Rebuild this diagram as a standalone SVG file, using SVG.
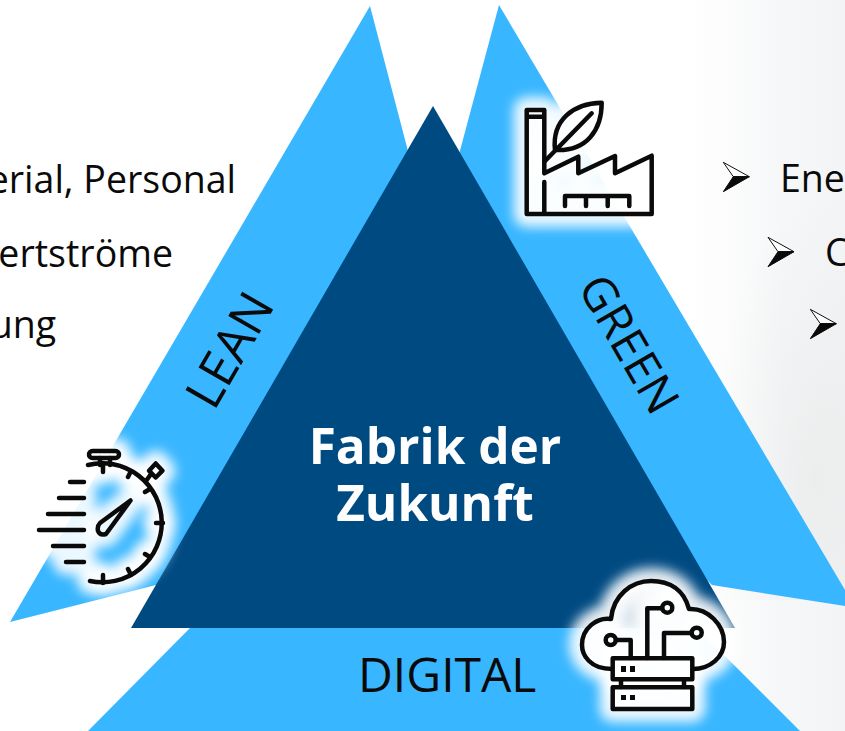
<svg xmlns="http://www.w3.org/2000/svg" width="845" height="731" viewBox="0 0 845 731">
<style>
.t{font-family:"Open Sans","Noto Sans","Liberation Sans",sans-serif;fill:#0a0a0a}
.b{font-size:37.5px}
.m{font-family:"Open Sans","Noto Sans","Liberation Sans",sans-serif;font-size:49.5px;font-weight:700;fill:#fff;text-anchor:middle}
.ln{fill:none;stroke:#0a0a0a;stroke-width:4.5;stroke-linecap:round;stroke-linejoin:round}
.hl{fill:none;stroke:#fff;stroke-width:26;stroke-opacity:.9;stroke-linecap:round;stroke-linejoin:round;filter:url(#bl)}
.fillk{fill:#0a0a0a;stroke:none}
.inner{fill:#fff;fill-opacity:.8;stroke:none}
</style>
<defs>
<linearGradient id="bg" x1="0" y1="0" x2="1" y2="0"><stop offset="0" stop-color="#fff"/><stop offset=".6" stop-color="#f6f7f8"/><stop offset="1" stop-color="#f3f4f5"/></linearGradient>
<radialGradient id="sh" cx=".8" cy=".7" r=".7"><stop offset="0" stop-color="#dcdcdc" stop-opacity=".35"/><stop offset="1" stop-color="#dcdcdc" stop-opacity="0"/></radialGradient>
<filter id="bl" x="-30%" y="-30%" width="160%" height="160%"><feGaussianBlur stdDeviation="6"/></filter>
<g id="arrow"><path d="M723.3 162.3L749.3 176.7L733.3 176.7Z" fill="#fff" stroke="#111" stroke-width="1"/><path d="M723.3 191.7L749.3 176.7L733.3 176.7Z" fill="#0a0a0a" stroke="#0a0a0a" stroke-width="1"/></g>
<g id="sw">
<path d="M88 465A59.5 59.5 0 1 1 90 581"/>
<rect x="89" y="451" width="30" height="7" rx="3.5"/>
<path d="M100 458V465M110 458V465M103 463V472M131 471L128 477M150 489L145 492M163 523H156M150 557L145 554M131 575L128 569M103 583V575M146 481L151 474"/>
<path d="M155.7 463.5L162.5 470.7L155.7 477.5L149 470.7Z"/>
<path d="M70 482H84M59 498H84M48 514H84M39 530H84M53 546H84M66 562H84"/>
<path d="M130.5 500.5L106 534Q100 536 98 531Q97 526 100 523Z"/>
</g>
<g id="fa">
<path d="M544.3 173.3L578.3 156.7V173.3L615 156V173.3L651.7 155.7V214H526.7V110H544.3V173.3M544.3 182V214M526.7 116.7H544.3M565 206V196H629.3V206M586 196V206M607.7 196V206"/>
<path d="M555 150C551.7 120 573.3 103.3 601.7 102.7C601.7 130 586.7 151.7 555 150ZM544.3 161.7L591.7 113.3"/>
</g>
<g id="cl">
<path d="M612 669C590 669 582 655 582 645C582 628 597 617 611 619C613 595 632 581 651 581C670 581 684 590 689 609C708 608 724 625 724 642C724 657 710 669 693 669"/>
<rect x="612.7" y="658.3" width="79.6" height="21"/>
<rect x="612.7" y="687.3" width="79.6" height="21.7"/>
<path d="M621 679.5V687M684 679.5V687M616 640H630.7V658M647.3 658V608.3H662M664 658V633H691"/>
<circle cx="610.7" cy="640" r="5"/><circle cx="667.3" cy="607.7" r="5"/><circle cx="696.7" cy="632.7" r="5"/>
</g>
</defs>
<rect width="845" height="731" fill="#fff"/>
<rect x="690" width="155" height="731" fill="url(#bg)"/>
<rect x="700" y="200" width="145" height="400" fill="url(#sh)"/>
<g id="left-text">
<text class="t b" x="236" y="192.7" text-anchor="end">erial, Personal</text>
<text class="t b" x="173" y="266.7" text-anchor="end">ertströme</text>
<text class="t b" x="56" y="338" text-anchor="end">ung</text>
</g>
<g id="right-text">
<use href="#arrow"/>
<use href="#arrow" x="44.7" y="75"/>
<use href="#arrow" x="87" y="147"/>
<text class="t b" x="780" y="191.7">Ene</text>
<text class="t b" x="825" y="266">C</text>
</g>
<g id="lean">
<polygon points="370,6 10,622 160,584 447,300" fill="#38b6ff"/>
<text class="t" font-size="50" transform="translate(214,412) rotate(-60)">LEAN</text>
</g>
<g id="green">
<polygon points="499,5 845,590 845,606 712,585 420,300" fill="#38b6ff"/>
<text class="t" font-size="47" transform="translate(577,287) rotate(60)">GREEN</text>
</g>
<g id="digital">
<polygon points="190,628 88,731 800,731 697,628" fill="#38b6ff"/>
</g>
<g id="fabrik">
<polygon points="433,106 131,628 735,628" fill="#004a82"/>
<text class="m" x="435" y="464">Fabrik der</text>
<text class="m" x="435" y="521">Zukunft</text>
</g>
<text id="digital-label" class="t" font-size="48" x="358" y="692">DIGITAL</text>
<g id="icon-lean">
<use href="#sw" class="hl"/>
<use href="#sw" class="ln"/>
</g>
<g id="icon-green">
<use href="#fa" class="hl"/>
<path class="inner" d="M526.7 110H544.3V173.3L578.3 156.7V173.3L615 156V173.3L651.7 155.7V214H526.7Z"/>
<path class="inner" d="M555 150C551.7 120 573.3 103.3 601.7 102.7C601.7 130 586.7 151.7 555 150Z"/>
<use href="#fa" class="ln"/>
</g>
<g id="icon-digital">
<use href="#cl" class="hl"/>
<path class="inner" d="M611 669C590 669 582 655 582 645C582 628 597 617 611 619C613 595 632 581 651 581C670 581 684 590 689 609C708 608 724 625 724 642C724 657 710 669 693 669V709H613Z"/>
<use href="#cl" class="ln"/>
<rect class="fillk" x="621" y="666" width="5" height="6"/><rect class="fillk" x="630" y="666" width="5" height="6"/>
<rect class="fillk" x="621" y="695" width="5" height="5"/><rect class="fillk" x="630" y="695" width="5" height="5"/>
</g>
</svg>
